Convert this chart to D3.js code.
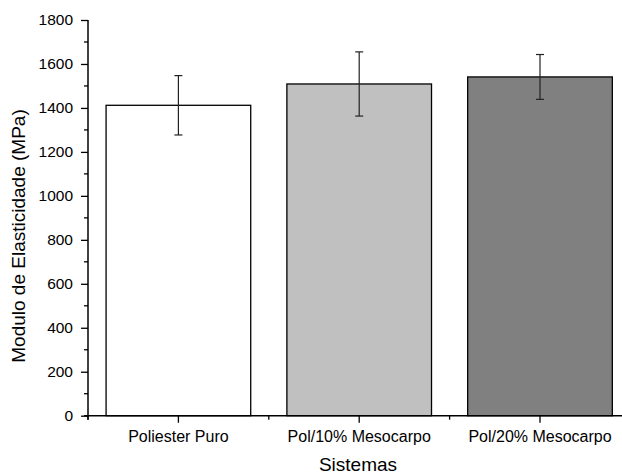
<!DOCTYPE html>
<html><head><meta charset="utf-8">
<script src="https://cdn.jsdelivr.net/npm/d3@7"></script>
<style>body{margin:0;background:#fff}svg{display:block}text{font-family:Arial,"Liberation Sans",sans-serif}</style>
</head><body><svg id="c" width="622" height="475"></svg>
<script>
const categories = ["Poliester Puro", "Pol/10% Mesocarpo", "Pol/20% Mesocarpo"];
const values = [1412, 1509, 1541];
const errors = [135, 146, 102];
const colors = ["#ffffff", "#c0c0c0", "#808080"];
const yTicks = [0, 200, 400, 600, 800, 1000, 1200, 1400, 1600, 1800];
const yMinorTicks = [100, 300, 500, 700, 900, 1100, 1300, 1500, 1700];

const svg = d3.select("#c");
const x0 = 88, xEnd = 630.4, y0 = 415.7, yTop = 20;
const x = d3.scaleBand().domain(categories).range([x0, xEnd]).paddingInner(0.2).paddingOuter(0.1);
const y = d3.scaleLinear().domain([0, 1800]).range([y0, yTop]);

// bars
svg.selectAll("rect.bar").data(categories).join("rect")
  .attr("x", d => x(d)).attr("width", x.bandwidth())
  .attr("y", (d,i) => y(values[i])).attr("height", (d,i) => y(0) - y(values[i]))
  .attr("fill", (d,i) => colors[i]).attr("stroke", "#000").attr("stroke-width", 1.3);

// error bars
const eb = svg.append("g").attr("stroke", "#222").attr("stroke-width", 1.2);
categories.forEach((c,i) => {
  const cx = x(c) + x.bandwidth()/2;
  eb.append("line").attr("x1", cx).attr("x2", cx).attr("y1", y(values[i]+errors[i])).attr("y2", y(values[i]-errors[i]));
  [values[i]+errors[i], values[i]-errors[i]].forEach(v => {
    eb.append("line").attr("x1", cx-4).attr("x2", cx+4).attr("y1", y(v)).attr("y2", y(v));
  });
});

// y axis
const ya = svg.append("g").attr("transform", `translate(${x0},0)`)
  .call(d3.axisLeft(y).tickValues(yTicks).tickSize(7).tickPadding(8).tickFormat(d3.format("d")));
ya.selectAll("text").attr("font-size", 15.5).attr("fill", "#000");
ya.append("g").selectAll("line").data(yMinorTicks).join("line")
  .attr("x1", -4).attr("x2", 0).attr("y1", d => y(d)).attr("y2", d => y(d)).attr("stroke", "#000").attr("stroke-width", 1.3);
ya.selectAll(".domain").attr("d", `M0,${y0+4}V${yTop}`).attr("stroke-width", 1.5);
ya.selectAll(".tick line").attr("stroke-width", 1.3);

// x axis
const xa = svg.append("g").attr("transform", `translate(0,${y0})`)
  .call(d3.axisBottom(x).tickSize(7).tickPadding(8));
xa.selectAll("text").attr("font-size", 16).attr("fill", "#000");
xa.selectAll(".domain").attr("d", `M${x0-4},0H${xEnd}`).attr("stroke-width", 1.5);
xa.selectAll(".tick line").attr("stroke-width", 1.3);
const minorX = categories.map(c => x(c) - x.step()*x.paddingInner()/2).concat([xEnd]);
xa.append("g").selectAll("line").data(minorX).join("line")
  .attr("x1", d => d).attr("x2", d => d).attr("y1", 0).attr("y2", 4).attr("stroke", "#000").attr("stroke-width", 1.3);

// labels
svg.append("text").attr("x", 358).attr("y", 471).attr("text-anchor", "middle")
  .attr("font-size", 19).text("Sistemas");
svg.append("text").attr("transform", `translate(25,236) rotate(-90)`).attr("text-anchor", "middle")
  .attr("font-size", 19).text("Modulo de Elasticidade (MPa)");
</script></body></html>
